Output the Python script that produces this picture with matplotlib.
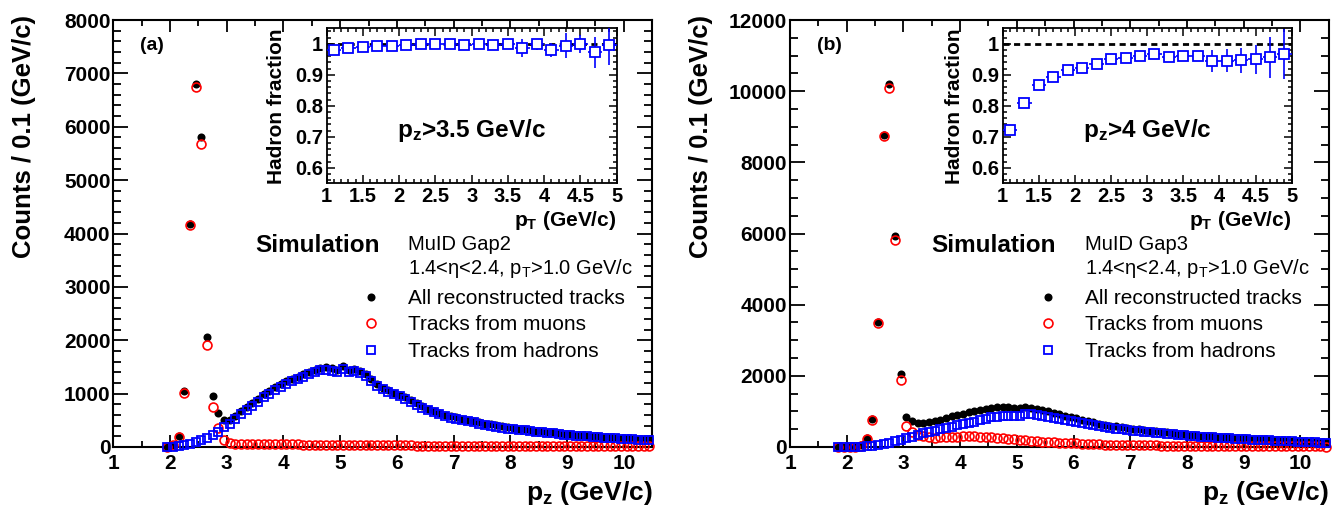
import numpy as np
import matplotlib
matplotlib.use("Agg")
import matplotlib.pyplot as plt
from matplotlib.ticker import MultipleLocator, FuncFormatter
from matplotlib.lines import Line2D

plt.rcParams["font.family"] = ["Liberation Sans", "DejaVu Sans"]
plt.rcParams["mathtext.fontset"] = "custom"
plt.rcParams["mathtext.rm"] = "Liberation Sans"
plt.rcParams["mathtext.bf"] = "Liberation Sans:bold"
plt.rcParams["mathtext.it"] = "Liberation Sans:italic"

# ---- panel (a): MuID Gap2, bin centres 1.95 ... 10.45 (0.1 GeV/c bins)
pz_a = np.round(np.arange(1.95, 10.46, 0.1), 2)
all_a = [5, 40, 210, 1040, 4180, 6800, 5800, 2070, 960, 630, 500,
         515, 585, 672, 750, 828, 906, 985, 1054, 1122, 1180,
         1229, 1278, 1317, 1366, 1405, 1444, 1483, 1492, 1471, 1450,
         1509, 1448, 1467, 1416, 1365, 1274, 1183, 1112, 1061, 1020,
         980, 929, 874, 818, 763, 717, 677, 641, 606, 575,
         553, 529, 509, 485, 463, 440, 422, 404, 386, 366,
         353, 340, 330, 318, 307, 297, 287, 276, 264, 252,
         241, 232, 223, 214, 206, 199, 191, 183, 177, 170,
         164, 159, 153, 148, 143]
muons_a = [5, 30, 195, 1020, 4160, 6740, 5670, 1910, 745, 350, 130,
           75, 65, 62, 60, 58, 56, 55, 54, 52, 50,
           49, 48, 47, 46, 45, 44, 43, 42, 41, 40,
           39, 38, 37, 36, 35, 34, 33, 32, 31, 30,
           30, 29, 29, 28, 28, 27, 27, 26, 26, 25,
           25, 24, 24, 23, 23, 22, 22, 22, 21, 21,
           21, 20, 20, 20, 19, 19, 19, 18, 18, 18,
           17, 17, 17, 16, 16, 16, 15, 15, 15, 14,
           14, 14, 13, 13, 13]
hadrons_a = [0, 8, 22, 40, 62, 90, 125, 170, 225, 290, 370,
             440, 520, 610, 690, 770, 850, 930, 1000, 1070, 1130,
             1180, 1230, 1270, 1320, 1360, 1400, 1440, 1450, 1430, 1410,
             1470, 1410, 1430, 1380, 1330, 1240, 1150, 1080, 1030, 990,
             950, 900, 845, 790, 735, 690, 650, 615, 580, 550,
             528, 505, 485, 462, 440, 418, 400, 382, 365, 345,
             332, 320, 310, 298, 288, 278, 268, 258, 246, 234,
             224, 215, 206, 198, 190, 183, 176, 168, 162, 156,
             150, 145, 140, 135, 130]

# ---- panel (b): MuID Gap3, bin centres 1.85 ... 10.45
pz_b = np.round(np.arange(1.85, 10.46, 0.1), 2)
all_b = [0, 2, 6, 14, 54, 245, 780, 3520, 8780, 10200, 5940, 2045,
         840, 720, 685, 685, 695, 725, 770, 820, 863, 905,
         940, 978, 1015, 1045, 1077, 1106, 1114, 1120, 1121, 1102,
         1082, 1128, 1094, 1071, 1039, 998, 958, 918, 879, 841,
         804, 764, 728, 692, 660, 630, 603, 577, 553, 531,
         512, 493, 476, 459, 442, 425, 408, 391, 376, 360,
         345, 332, 321, 310, 299, 288, 277, 267, 257, 248,
         239, 230, 222, 213, 205, 197, 189, 181, 173, 166,
         158, 151, 143, 136, 129]
muons_b = [0, 0, 2, 6, 40, 235, 765, 3490, 8740, 10080, 5820, 1880,
           600, 430, 350, 305, 275, 265, 270, 280, 288, 295,
           300, 303, 300, 295, 287, 276, 264, 250, 236, 222,
           207, 193, 179, 166, 154, 143, 133, 123, 114, 106,
           99, 92, 86, 80, 75, 70, 66, 62, 58, 55,
           52, 49, 47, 45, 43, 41, 39, 37, 36, 34,
           33, 32, 31, 30, 29, 28, 27, 26, 25, 24,
           23, 22, 22, 21, 20, 19, 19, 18, 17, 17,
           16, 16, 15, 15, 14]
hadrons_b = [0, 2, 4, 8, 14, 22, 35, 55, 85, 120, 160, 200,
             245, 290, 335, 380, 420, 460, 500, 540, 575, 610,
             640, 675, 715, 750, 790, 830, 850, 870, 885, 880,
             875, 935, 915, 905, 885, 855, 825, 795, 765, 735,
             705, 672, 642, 612, 585, 560, 537, 515, 495, 476,
             460, 444, 429, 414, 399, 384, 369, 354, 340, 326,
             312, 300, 290, 280, 270, 260, 250, 241, 232, 224,
             216, 208, 200, 192, 185, 178, 170, 163, 156, 149,
             142, 135, 128, 121, 115]

# ---- insets: hadron fraction vs pT (0.2 GeV/c bins)
pt = np.round(np.arange(1.1, 5.0, 0.2), 2)
frac_a = [0.981, 0.987, 0.990, 0.992, 0.994, 0.996, 0.999, 0.998, 0.999, 0.995,
          1.000, 0.996, 0.998, 0.986, 0.999, 0.980, 0.994, 1.000, 0.972, 0.997]
err_a = [0.004, 0.004, 0.004, 0.004, 0.004, 0.005, 0.005, 0.005, 0.006, 0.007,
         0.008, 0.009, 0.011, 0.028, 0.018, 0.021, 0.040, 0.030, 0.050, 0.066]
frac_b = [0.721, 0.809, 0.868, 0.894, 0.914, 0.922, 0.935, 0.951, 0.954, 0.961,
          0.967, 0.959, 0.961, 0.961, 0.945, 0.946, 0.947, 0.950, 0.957, 0.967]
err_b = [0.003, 0.003, 0.003, 0.004, 0.004, 0.005, 0.005, 0.006, 0.007, 0.008,
         0.009, 0.010, 0.012, 0.015, 0.035, 0.038, 0.040, 0.047, 0.066, 0.080]

W, H = 1340, 512
fig = plt.figure(figsize=(W / 100, H / 100), dpi=100)


def box(l, t, r, b):
    return [l / W, 1 - b / H, (r - l) / W, (b - t) / H]


def ftext(x, y, s, **kw):
    fig.text(x / W, 1 - y / H, s, **kw)


def style_main(ax, ymax, ymaj, ymin):
    ax.set_xlim(1, 10.5)
    ax.set_ylim(0, ymax)
    ax.xaxis.set_major_locator(MultipleLocator(1))
    ax.xaxis.set_minor_locator(MultipleLocator(0.5))
    ax.yaxis.set_major_locator(MultipleLocator(ymaj))
    ax.yaxis.set_minor_locator(MultipleLocator(ymin))
    ax.xaxis.set_major_formatter(FuncFormatter(lambda v, p: "%d" % v))
    ax.yaxis.set_major_formatter(FuncFormatter(lambda v, p: "%d" % v))
    for s in ax.spines.values():
        s.set_linewidth(1.5)
    ax.tick_params(which="both", direction="in", top=True, right=True, width=1.3)
    ax.tick_params(axis="x", which="major", length=8.5, pad=5, labelsize=15)
    ax.tick_params(axis="x", which="minor", length=4.5)
    ax.tick_params(axis="y", which="major", length=11, pad=2, labelsize=15)
    ax.tick_params(axis="y", which="minor", length=5.5)
    for lab in ax.get_xticklabels() + ax.get_yticklabels():
        lab.set_fontweight("bold")
    ax.set_ylabel("Counts / 0.1 (GeV/c)", fontsize=18.5, fontweight="bold")
    ax.set_xlabel(r"$\mathbf{p_{z}}$ (GeV/c)", fontsize=19, fontweight="bold", loc="right")


def draw_main(ax, pz, tot, mu, had):
    ax.plot(pz, tot, "o", color="black", ms=5.8, mew=0, clip_on=False, zorder=3)
    ax.plot(pz, mu, "o", mfc="none", mec="#ff0000", ms=6.4, mew=1.2, clip_on=False, zorder=4)
    ax.plot(pz, had, "s", mfc="none", mec="#0000ff", ms=5.7, mew=1.3, clip_on=False, zorder=5)


def draw_inset(ax, frac, err):
    ax.plot([1, 5], [1, 1], color="black", lw=2, dashes=(2.2, 1.6), zorder=2)
    ax.errorbar(pt, frac, yerr=err, xerr=0.1, fmt="s", mfc="white", mec="#0000ff",
                ecolor="#0000ff", ms=6.5, mew=1.3, elinewidth=1.2, capsize=0, zorder=3)
    ax.set_xlim(1, 5)
    ax.set_ylim(0.55, 1.05)
    ax.xaxis.set_major_locator(MultipleLocator(0.5))
    ax.xaxis.set_minor_locator(MultipleLocator(0.1))
    ax.yaxis.set_major_locator(MultipleLocator(0.1))
    ax.yaxis.set_minor_locator(MultipleLocator(0.02))
    ax.xaxis.set_major_formatter(FuncFormatter(lambda v, p: "%g" % v))
    ax.yaxis.set_major_formatter(FuncFormatter(lambda v, p: "%g" % round(v, 2)))
    for s in ax.spines.values():
        s.set_linewidth(1.3)
    ax.tick_params(which="both", direction="in", top=True, right=True, width=1.1)
    ax.tick_params(which="major", length=5.5, labelsize=14.5)
    ax.tick_params(which="minor", length=2.8)
    ax.tick_params(axis="x", pad=3)
    ax.tick_params(axis="y", pad=2.5)
    for lab in ax.get_xticklabels() + ax.get_yticklabels():
        lab.set_fontweight("bold")
    ax.set_ylabel("Hadron fraction", fontsize=15, fontweight="bold")
    ax.set_xlabel(r"$\mathbf{p_{T}}$ (GeV/c)", fontsize=15, fontweight="bold", loc="right")


handles = [Line2D([], [], ls="none", marker="o", color="black", ms=5.8, mew=0),
           Line2D([], [], ls="none", marker="o", mfc="none", mec="#ff0000", ms=6.4, mew=1.2),
           Line2D([], [], ls="none", marker="s", mfc="none", mec="#0000ff", ms=5.7, mew=1.3)]
labels = ["All reconstructed tracks", "Tracks from muons", "Tracks from hadrons"]

panels = [
    dict(l=113.3, r=652.2, pz=pz_a, tot=all_a, mu=muons_a, had=hadrons_a,
         ymax=8000, ymaj=1000, ymin=200, tag="(a)", gap="MuID Gap2",
         frac=frac_a, err=err_a, cut=r"$\mathbf{p_{z}}$>3.5 GeV/c", il=326.7, ir=616.7,
         ylab_x=36, ilab_x=286),
    dict(l=790.0, r=1328.7, pz=pz_b, tot=all_b, mu=muons_b, had=hadrons_b,
         ymax=12000, ymaj=2000, ymin=500, tag="(b)", gap="MuID Gap3",
         frac=frac_b, err=err_b, cut=r"$\mathbf{p_{z}}$>4 GeV/c", il=1002.7, ir=1291.7,
         ylab_x=713, ilab_x=964),
]

for p in panels:
    ax = fig.add_axes(box(p["l"], 20, p["r"], 447))
    draw_main(ax, p["pz"], p["tot"], p["mu"], p["had"])
    style_main(ax, p["ymax"], p["ymaj"], p["ymin"])
    wpx = p["r"] - p["l"]
    ax.yaxis.set_label_coords((p["ylab_x"] - p["l"]) / wpx, 0.726)
    ax.xaxis.set_label_coords(1.0, -0.075)

    dx = p["l"] - 113.3
    ftext(140 + dx, 45, p["tag"], fontsize=14, fontweight="bold", ha="left", va="center")
    ftext(255 + dx, 245, "Simulation", fontsize=17.5, fontweight="bold", ha="left", va="center")
    ftext(408 + dx, 245, p["gap"], fontsize=14.5, ha="left", va="center")
    ftext(408 + dx, 268, r"1.4<η<2.4, $\mathregular{p_{T}}$>1.0 GeV/c", fontsize=14.5,
          ha="left", va="center")
    ax.legend(handles, labels, loc="upper left",
              bbox_to_anchor=((360.6 + dx) / W, 1 - 289 / H), bbox_transform=fig.transFigure,
              frameon=False, fontsize=15, handlelength=1.0, handletextpad=1.28,
              labelspacing=0.36, borderpad=0, borderaxespad=0)

    ia = fig.add_axes(box(p["il"], 28.3, p["ir"], 183.3))
    draw_inset(ia, p["frac"], p["err"])
    iw = p["ir"] - p["il"]
    ia.yaxis.set_label_coords((p["ilab_x"] - p["il"]) / iw, 0.5)
    ia.xaxis.set_label_coords(1.0, -0.165)
    ia.text(0.5, 0.34, p["cut"], transform=ia.transAxes, fontsize=17.5, fontweight="bold",
            ha="center", va="center")

fig.savefig("out.png", dpi=100)
